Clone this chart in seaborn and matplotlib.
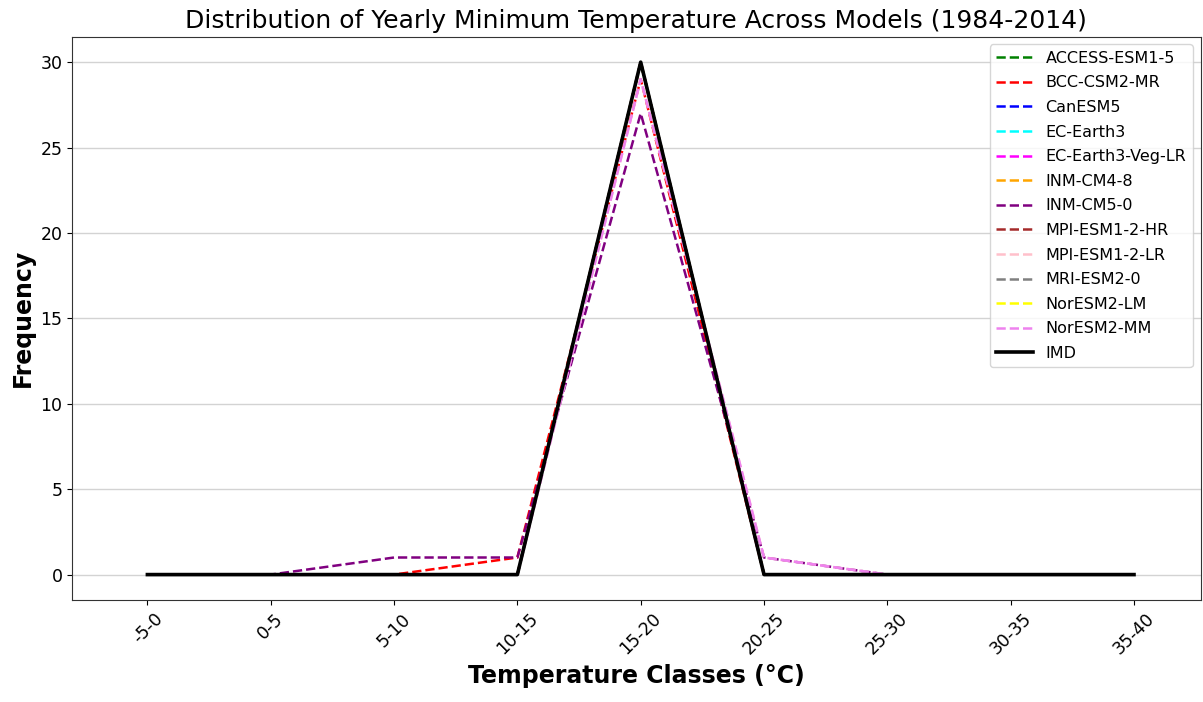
import matplotlib
matplotlib.use("Agg")
import matplotlib.pyplot as plt
import seaborn as sns
import pandas as pd

classes = ["-5-0", "0-5", "5-10", "10-15", "15-20", "20-25", "25-30", "30-35", "35-40"]

models = ["ACCESS-ESM1-5", "BCC-CSM2-MR", "CanESM5", "EC-Earth3", "EC-Earth3-Veg-LR",
          "INM-CM4-8", "INM-CM5-0", "MPI-ESM1-2-HR", "MPI-ESM1-2-LR", "MRI-ESM2-0",
          "NorESM2-LM", "NorESM2-MM"]
colors = ["green", "red", "blue", "cyan", "magenta", "orange", "purple", "brown",
          "pink", "gray", "yellow", "violet"]

access = [0, 0, 0, 0, 30, 0, 0, 0, 0]
bcc = [0, 0, 0, 1, 29, 0, 0, 0, 0]
canesm = [0, 0, 0, 0, 30, 0, 0, 0, 0]
ecearth = [0, 0, 0, 0, 30, 0, 0, 0, 0]
ecveg = [0, 0, 0, 0, 30, 0, 0, 0, 0]
inm48 = [0, 0, 0, 0, 30, 0, 0, 0, 0]
inm50 = [0, 0, 1, 1, 27, 1, 0, 0, 0]
mpihr = [0, 0, 0, 0, 30, 0, 0, 0, 0]
mpilr = [0, 0, 0, 0, 29, 1, 0, 0, 0]
mri = [0, 0, 0, 0, 30, 0, 0, 0, 0]
noreslm = [0, 0, 0, 0, 30, 0, 0, 0, 0]
noresmm = [0, 0, 0, 0, 29, 1, 0, 0, 0]
imd = [0, 0, 0, 0, 30, 0, 0, 0, 0]

series = [access, bcc, canesm, ecearth, ecveg, inm48, inm50, mpihr, mpilr, mri, noreslm, noresmm]

fig, ax = plt.subplots(figsize=(12.03, 7.02), dpi=100)
x = list(range(len(classes)))
for name, col, vals in zip(models, colors, series):
    df = pd.DataFrame({"x": x, "y": vals})
    sns.lineplot(data=df, x="x", y="y", ax=ax, color=col, linestyle="--", linewidth=1.8, label=name)
df = pd.DataFrame({"x": x, "y": imd})
sns.lineplot(data=df, x="x", y="y", ax=ax, color="black", linewidth=2.6, label="IMD")

ax.set_xticks(x)
ax.set_xticklabels(classes, rotation=45, fontsize=12.5)
ax.tick_params(axis="y", labelsize=12.5)
ax.set_xlim(-0.61, 8.54)
ax.set_xlabel("Temperature Classes (°C)", fontsize=17, fontweight="bold")
ax.set_ylabel("Frequency", fontsize=17, fontweight="bold")
ax.set_title("Distribution of Yearly Minimum Temperature Across Models (1984-2014)", fontsize=18)
ax.grid(axis="y", color="lightgray", linewidth=1)
ax.set_axisbelow(True)
for s in ax.spines.values():
    s.set_color("#333333")
ax.legend(loc="upper right", fontsize=11.5, labelspacing=0.6, handlelength=2.3)
fig.subplots_adjust(left=0.06, right=0.998, top=0.948, bottom=0.145)
fig.savefig("out.png", dpi=100)
